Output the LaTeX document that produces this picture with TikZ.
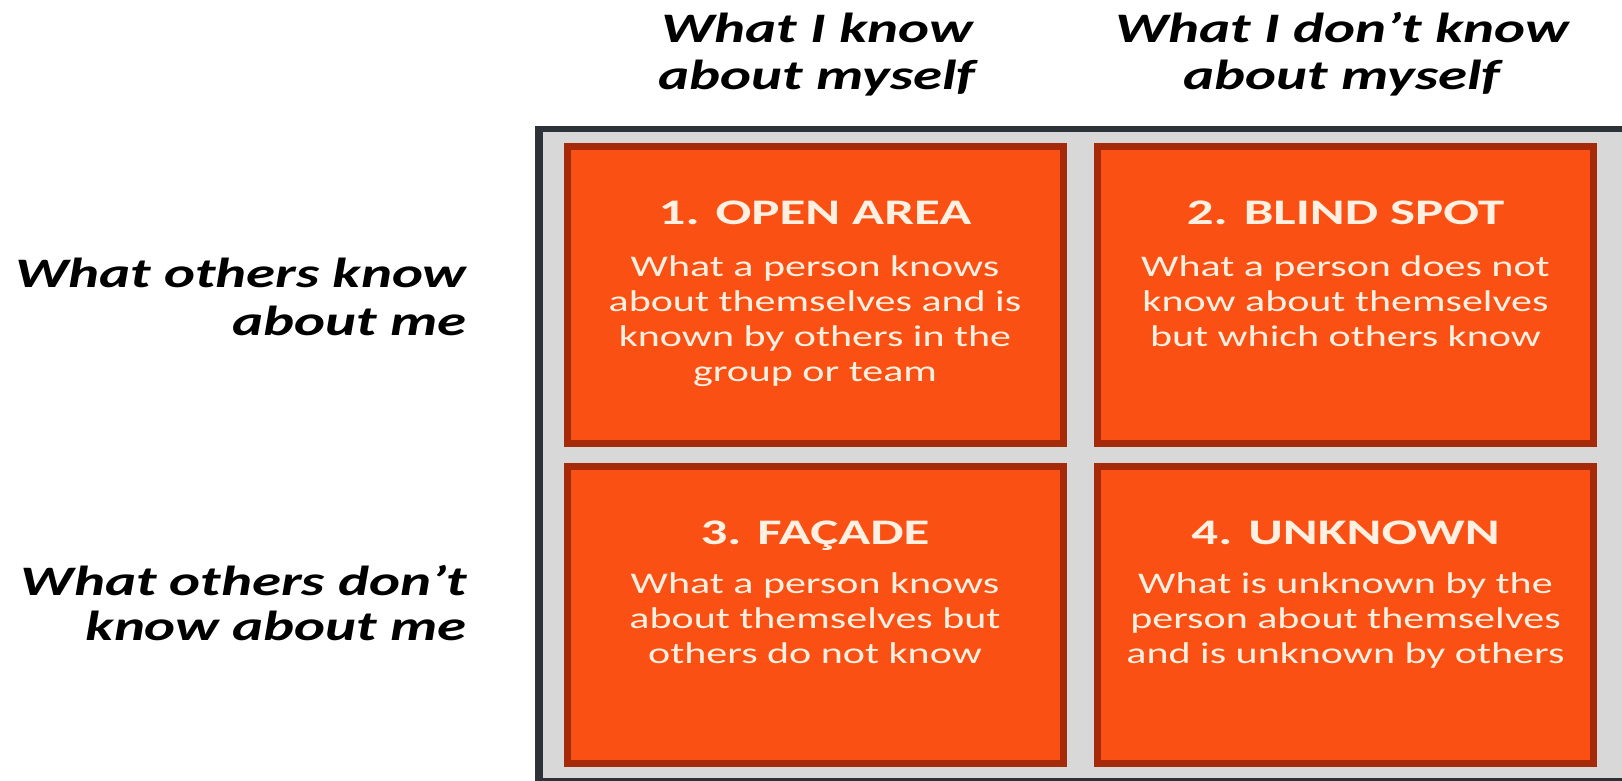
\documentclass[tikz,border=0pt]{standalone}
\usepackage{fontspec}
\newfontfamily\hdrfont[FakeStretch=1.4]{Carlito}
\newfontfamily\ttlfont[FakeStretch=1.47]{Carlito}
\newfontfamily\bodyfont[FakeStretch=1.4]{Carlito}
\definecolor{quadorange}{RGB}{250,80,20}
\definecolor{quadborder}{RGB}{165,42,10}
\definecolor{framegray}{RGB}{216,216,216}
\definecolor{framedark}{RGB}{45,50,57}
\definecolor{textcream}{RGB}{255,240,225}
\tikzset{
  hdr/.style={font=\hdrfont\bfseries\itshape\fontsize{42}{48}\selectfont, inner sep=0pt, text=black},
  quad/.style={draw=quadborder, fill=quadorange, line width=7pt, minimum width=496pt, minimum height=297pt, inner sep=0pt},
  ttl/.style={font=\ttlfont\bfseries\fontsize{36}{40}\selectfont, text=textcream, inner sep=0pt, anchor=base},
  bodytxt/.style={font=\bodyfont\fontsize{30}{35}\selectfont, text=textcream, inner sep=0pt, anchor=base}
}
\begin{document}
\begin{tikzpicture}[x=1pt,y=-1pt]
\useasboundingbox (0,0) rectangle (1622,781);
\clip (0,0) rectangle (1622,781);
\fill[white] (0,0) rectangle (1622,781);
% frame
\fill[framedark] (535,126) rectangle (1640,800);
\fill[framegray] (543,132) rectangle (1640,778);
% column headers
\node[hdr, anchor=base] (h1a) at (817,43) {What I know};
\node[hdr, anchor=base] (h1b) at (817,90) {about myself};
\node[hdr, anchor=base] (h2a) at (1342,43) {What I don’t know};
\node[hdr, anchor=base] (h2b) at (1342,90) {about myself};
% row headers
\node[hdr, anchor=base east] (r1a) at (467,287) {What others know};
\node[hdr, anchor=base east] (r1b) at (467,335) {about me};
\node[hdr, anchor=base east] (r2a) at (467,595) {What others don’t};
\node[hdr, anchor=base east] (r2b) at (467,640) {know about me};
% quadrants
\node[quad] (q1) at (815,295) {};
\node[quad] (q2) at (1345.5,295) {};
\node[quad] (q3) at (815,615) {};
\node[quad] (q4) at (1345.5,615) {};
% quadrant 1
\node[ttl] (t1) at (815,224) {1. OPEN AREA};
\node[bodytxt] (b1a) at (815,276) {What a person knows};
\node[bodytxt] (b1b) at (815,311) {about themselves and is};
\node[bodytxt] (b1c) at (815,346) {known by others in the};
\node[bodytxt] (b1d) at (815,381) {group or team};
% quadrant 2
\node[ttl] (t2) at (1345.5,224) {2. BLIND SPOT};
\node[bodytxt] (b2a) at (1345.5,276) {What a person does not};
\node[bodytxt] (b2b) at (1345.5,311) {know about themselves};
\node[bodytxt] (b2c) at (1345.5,346) {but which others know};
% quadrant 3
\node[ttl] (t3) at (815,544) {3. FAÇADE};
\node[bodytxt] (b3a) at (815,593) {What a person knows};
\node[bodytxt] (b3b) at (815,628) {about themselves but};
\node[bodytxt] (b3c) at (815,663) {others do not know};
% quadrant 4
\node[ttl] (t4) at (1345.5,544) {4. UNKNOWN};
\node[bodytxt] (b4a) at (1345.5,593) {What is unknown by the};
\node[bodytxt] (b4b) at (1345.5,628) {person about themselves};
\node[bodytxt] (b4c) at (1345.5,663) {and is unknown by others};
\end{tikzpicture}
\end{document}
